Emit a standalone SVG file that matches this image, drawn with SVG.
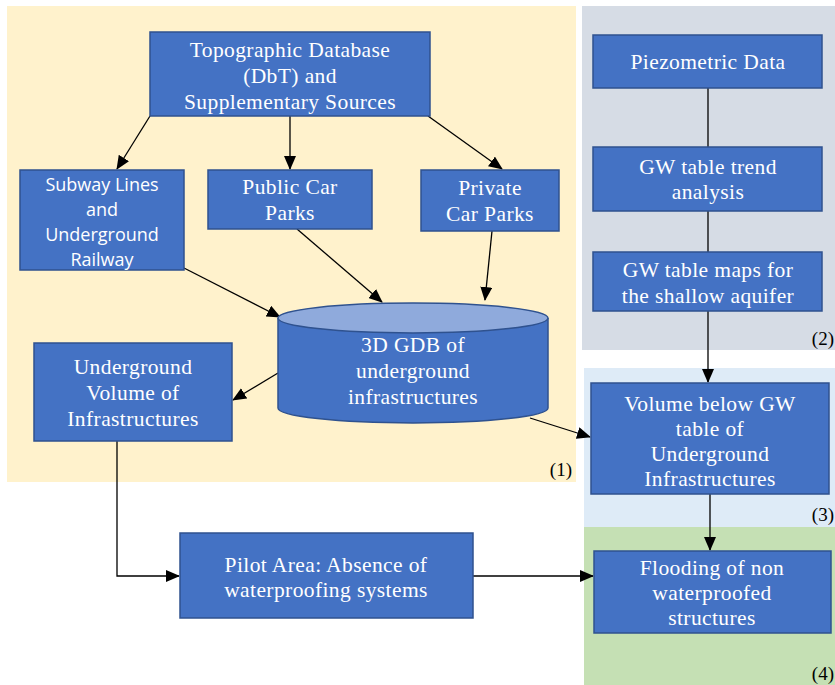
<svg xmlns="http://www.w3.org/2000/svg" width="835" height="685" viewBox="0 0 835 685">
<style>
.box{fill:#4472C4;stroke:#2F528F;stroke-width:1.5}
.t{font-family:"Liberation Serif","DejaVu Serif",serif;font-size:21.5px;letter-spacing:0.4px;fill:#fff;text-anchor:middle}
.s{font-family:"Open Sans","Liberation Sans",sans-serif;font-size:18px;fill:#fff;text-anchor:middle}
.lab{font-family:"Liberation Serif",serif;font-size:19px;fill:#000;text-anchor:end}
.c{stroke:#000;stroke-width:1.3;fill:none}
</style>
<defs>
<marker id="ah" markerWidth="14" markerHeight="12" refX="13" refY="6" orient="auto" markerUnits="userSpaceOnUse" viewBox="0 0 14 12">
<path d="M0,0 L14,6 L0,12 z" fill="#000"/>
</marker>
</defs>
<rect width="835" height="685" fill="#fff"/>
<g id="regions">
<rect x="7" y="6" width="569" height="476" fill="#FFF2CC"/>
<rect x="582" y="6" width="253" height="344" fill="#D6DCE5"/>
<rect x="584" y="368" width="251" height="159" fill="#DEEBF7"/>
<rect x="584" y="527" width="251" height="158" fill="#C5E0B4"/>
<text class="lab" x="572" y="476">(1)</text>
<text class="lab" x="834" y="345">(2)</text>
<text class="lab" x="834" y="521">(3)</text>
<text class="lab" x="834" y="680">(4)</text>
</g>
<g id="connectors">
<line class="c" x1="150" y1="116" x2="117" y2="169" marker-end="url(#ah)"/>
<line class="c" x1="290" y1="116" x2="290" y2="169" marker-end="url(#ah)"/>
<line class="c" x1="428" y1="116" x2="502" y2="169" marker-end="url(#ah)"/>
<line class="c" x1="184" y1="268" x2="280" y2="317" marker-end="url(#ah)"/>
<line class="c" x1="297" y1="229" x2="382" y2="302" marker-end="url(#ah)"/>
<line class="c" x1="492" y1="231" x2="485" y2="300" marker-end="url(#ah)"/>
<line class="c" x1="278" y1="373" x2="233" y2="400" marker-end="url(#ah)"/>
<line class="c" x1="530" y1="418" x2="590" y2="437" marker-end="url(#ah)"/>
<line class="c" x1="708" y1="88" x2="708" y2="147"/>
<line class="c" x1="708" y1="211" x2="708" y2="252"/>
<line class="c" x1="708" y1="311" x2="708" y2="382" marker-end="url(#ah)"/>
<line class="c" x1="710" y1="494" x2="710" y2="550" marker-end="url(#ah)"/>
<polyline class="c" points="117,441 117,576 179,576" marker-end="url(#ah)"/>
<line class="c" x1="473" y1="576" x2="593" y2="576" marker-end="url(#ah)"/>
</g>
<g id="topo">
<rect class="box" x="150" y="32" width="280" height="84"/>
<text class="t" x="290" y="57">Topographic Database</text>
<text class="t" x="290" y="83">(DbT) and</text>
<text class="t" x="290" y="109">Supplementary Sources</text>
</g>
<g id="subway">
<rect class="box" x="20" y="170" width="164" height="100"/>
<text class="s" x="102" y="191">Subway Lines</text>
<text class="s" x="102" y="216">and</text>
<text class="s" x="102" y="241">Underground</text>
<text class="s" x="102" y="266">Railway</text>
</g>
<g id="public">
<rect class="box" x="208" y="170" width="164" height="59"/>
<text class="t" x="290" y="194">Public Car</text>
<text class="t" x="290" y="220">Parks</text>
</g>
<g id="private">
<rect class="box" x="421" y="170" width="138" height="61"/>
<text class="t" x="490" y="195">Private</text>
<text class="t" x="490" y="221">Car Parks</text>
</g>
<g id="gdb">
<path d="M278,318 L278,408 A135,15 0 0 0 548,408 L548,318" fill="#4472C4" stroke="#2F528F" stroke-width="1.5"/>
<ellipse cx="413" cy="318" rx="135" ry="15" fill="#8FAADC" stroke="#2F528F" stroke-width="1.5"/>
<text class="t" x="413" y="352">3D GDB of</text>
<text class="t" x="413" y="378">underground</text>
<text class="t" x="413" y="404">infrastructures</text>
</g>
<g id="ugvol">
<rect class="box" x="34" y="343" width="198" height="98"/>
<text class="t" x="133" y="374">Underground</text>
<text class="t" x="133" y="400">Volume of</text>
<text class="t" x="133" y="426">Infrastructures</text>
</g>
<g id="piezo">
<rect class="box" x="593" y="35" width="229" height="53"/>
<text class="t" x="708" y="69">Piezometric Data</text>
</g>
<g id="trend">
<rect class="box" x="593" y="147" width="229" height="64"/>
<text class="t" x="708" y="174">GW table trend</text>
<text class="t" x="708" y="199">analysis</text>
</g>
<g id="maps">
<rect class="box" x="593" y="252" width="229" height="59"/>
<text class="t" x="708" y="277">GW table maps for</text>
<text class="t" x="708" y="303">the shallow aquifer</text>
</g>
<g id="volbelow">
<rect class="box" x="591" y="383" width="238" height="111"/>
<text class="t" x="710" y="411">Volume below GW</text>
<text class="t" x="710" y="436">table of</text>
<text class="t" x="710" y="461">Underground</text>
<text class="t" x="710" y="486">Infrastructures</text>
</g>
<g id="flood">
<rect class="box" x="594" y="551" width="237" height="82"/>
<text class="t" x="712" y="575">Flooding of non</text>
<text class="t" x="712" y="600">waterproofed</text>
<text class="t" x="712" y="625">structures</text>
</g>
<g id="pilot">
<rect class="box" x="180" y="533" width="293" height="85"/>
<text class="t" x="326" y="572">Pilot Area: Absence of</text>
<text class="t" x="326" y="597">waterproofing systems</text>
</g>
</svg>
